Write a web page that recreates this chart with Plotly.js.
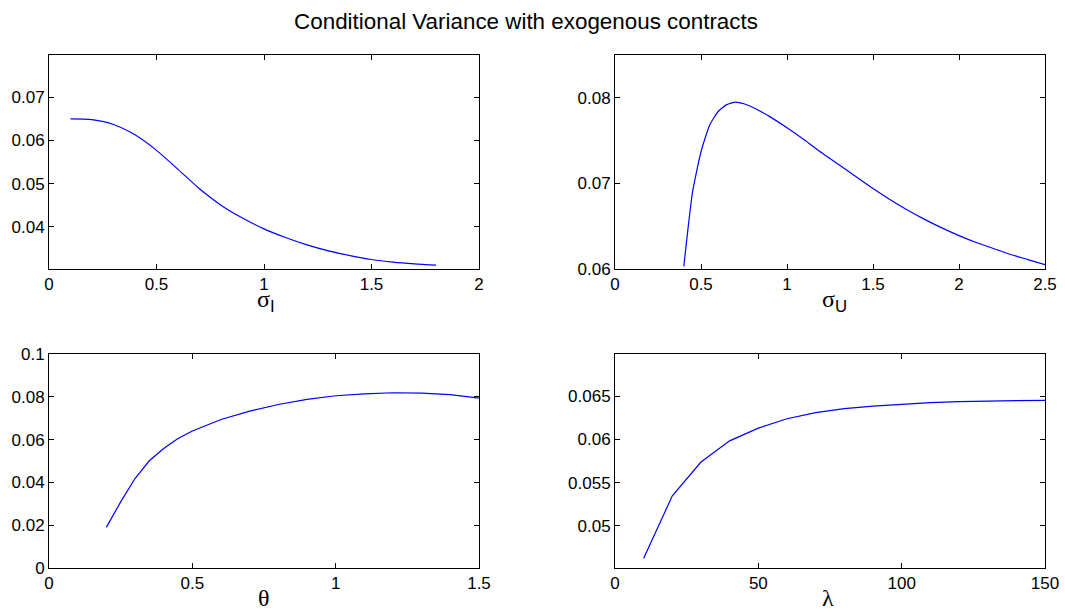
<!DOCTYPE html>
<html>
<head>
<meta charset="utf-8">
<script src="https://cdn.plot.ly/plotly-3.0.1.min.js"></script>
<style>html,body{margin:0;padding:0;background:#fff;}#chart{width:1065px;height:613px;}</style>
</head>
<body>
<div id="chart"></div>
<script>
// Panel 1: sigma_I
const sigmaI_x = [0.1,0.2,0.3,0.4,0.5,0.6,0.7,0.8,0.9,1.0,1.1,1.2,1.3,1.4,1.5,1.6,1.7,1.8];
const sigmaI_y = [0.0650,0.0648,0.0637,0.0613,0.0577,0.0533,0.0488,0.0450,0.0420,0.0395,0.0375,0.0358,0.0344,0.0333,0.0324,0.0318,0.0314,0.0311];
// Panel 2: sigma_U
const sigmaU_x = [0.4,0.45,0.5,0.55,0.6,0.65,0.7,0.75,0.8,0.9,1.0,1.1,1.2,1.3,1.4,1.5,1.6,1.7,1.8,1.9,2.0,2.1,2.2,2.3,2.4,2.5];
const sigmaU_y = [0.0603,0.0689,0.0737,0.0768,0.0784,0.0792,0.0795,0.0793,0.0789,0.0778,0.0765,0.0751,0.0736,0.0722,0.0708,0.0694,0.0681,0.0669,0.0658,0.0648,0.0639,0.0631,0.0624,0.0617,0.0611,0.0605];
// Panel 3: theta
const theta_x = [0.2,0.25,0.3,0.35,0.4,0.45,0.5,0.55,0.6,0.7,0.8,0.9,1.0,1.1,1.2,1.3,1.4,1.5];
const theta_y = [0.0190,0.0309,0.0418,0.0501,0.0558,0.0605,0.0640,0.0668,0.0694,0.0733,0.0764,0.0788,0.0805,0.0814,0.0819,0.0817,0.0810,0.0794];
// Panel 4: lambda
const lambda_x = [10,20,30,40,50,60,70,80,90,100,110,120,130,140,150];
const lambda_y = [0.04623,0.05346,0.05738,0.05983,0.06131,0.0624,0.0631,0.06356,0.06387,0.0641,0.06426,0.06438,0.06446,0.0645,0.06453];

const chartTitle = 'Conditional Variance with exogenous contracts';
const xTitles = ['σ<sub><span style="font-family:Liberation Sans">I</span></sub>','σ<sub><span style="font-family:Liberation Sans">U</span></sub>','θ','λ'];
const xTicks = [[0,0.5,1,1.5,2],[0,0.5,1,1.5,2,2.5],[0,0.5,1,1.5],[0,50,100,150]];
const xTickText = [['0','0.5','1','1.5','2'],['0','0.5','1','1.5','2','2.5'],['0','0.5','1','1.5'],['0','50','100','150']];
const yTicks = [[0.04,0.05,0.06,0.07],[0.06,0.07,0.08],[0,0.02,0.04,0.06,0.08,0.1],[0.05,0.055,0.06,0.065]];
const yTickText = [['0.04','0.05','0.06','0.07'],['0.06','0.07','0.08'],['0','0.02','0.04','0.06','0.08','0.1'],['0.05','0.055','0.06','0.065']];

const lineShapes = [{shape:'spline', smoothing:0.8},{shape:'spline', smoothing:0.5},{shape:'linear'},{shape:'linear'}];
const traces = [
  {x:sigmaI_x, y:sigmaI_y, xaxis:'x', yaxis:'y'},
  {x:sigmaU_x, y:sigmaU_y, xaxis:'x2', yaxis:'y2'},
  {x:theta_x, y:theta_y, xaxis:'x3', yaxis:'y3'},
  {x:lambda_x, y:lambda_y, xaxis:'x4', yaxis:'y4'}
].map((t,i) => Object.assign(t, {type:'scatter', mode:'lines', line:Object.assign({color:'#0000ff', width:1.2}, lineShapes[i]), showlegend:false, hoverinfo:'skip'}));

const W = 1065, H = 613;
const colX = [[49,479],[615,1045]];
const rowY = [[55,269],[354,568]];
const xRanges = [[0,2],[0,2.5],[0,1.5],[0,150]];
const yRanges = [[0.0302,0.0798],[0.06,0.085],[0,0.1],[0.0451,0.0699]];
// axis-title label anchor points (px): centre x, top y
const xTitlePos = [[266,284],[834,284],[264,583],[828,583]];

const tickFont = {family:'Liberation Sans, Arial, sans-serif', size:17, color:'#000'};
const layout = {
  width:W, height:H,
  margin:{l:0,r:0,t:0,b:0},
  paper_bgcolor:'#fff', plot_bgcolor:'#fff',
  title:{text:chartTitle, x:526/W, xanchor:'center', y:1-21/H, yanchor:'middle', font:{family:'Liberation Sans, Arial, sans-serif', size:22.4, color:'#000'}},
  showlegend:false,
  annotations:[]
};
for (let i=0;i<4;i++){
  const c = i%2, r = Math.floor(i/2);
  const sx = i===0?'':String(i+1);
  const common = {showline:true, linecolor:'#000', linewidth:1, mirror:'allticks', ticks:'inside', ticklen:5, tickcolor:'#000', tickwidth:1, showgrid:false, zeroline:false, tickfont:tickFont, fixedrange:true, tickmode:'array'};
  layout['xaxis'+sx] = Object.assign({}, common, {
    domain:[colX[c][0]/W, colX[c][1]/W], range:xRanges[i], anchor:'y'+sx,
    tickvals:xTicks[i], ticktext:xTickText[i]
  });
  layout['yaxis'+sx] = Object.assign({}, common, {
    domain:[1-rowY[r][1]/H, 1-rowY[r][0]/H], range:yRanges[i], anchor:'x'+sx,
    tickvals:yTicks[i], ticktext:yTickText[i]
  });
  layout.annotations.push({
    text:xTitles[i], xref:'paper', yref:'paper',
    x:xTitlePos[i][0]/W, y:1-xTitlePos[i][1]/H, xanchor:'center', yanchor:'top',
    showarrow:false, font:{family:'Liberation Serif, Times New Roman, serif', size:24, color:'#000'}
  });
}
Plotly.newPlot('chart', traces, layout, {displayModeBar:false, staticPlot:true});
</script>
</body>
</html>
